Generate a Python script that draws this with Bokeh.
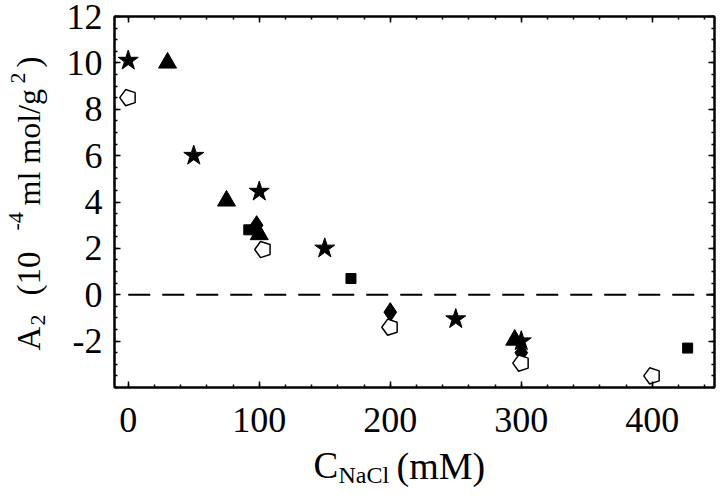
from bokeh.plotting import figure
from bokeh.models import (LinearAxis, Range1d, FixedTicker, Label,
                          CustomJSTickFormatter)
from bokeh.layouts import column, row
from bokeh.embed import file_html
from bokeh.resources import INLINE
import math

# ---- data (C_NaCl in mM, A2 in 1e-4 ml mol/g^2) ----
star_x = [0, 50, 100, 150, 250, 300]
star_y = [10.1, 6.0, 4.45, 2.0, -1.05, -2.0]

tri_x = [30, 75, 100, 295]
tri_y = [10.0, 4.05, 2.6, -1.95]

sq_x = [92, 170, 427]
sq_y = [2.8, 0.7, -2.3]

dia_x = [98, 200, 300]
dia_y = [3.0, -0.75, -2.5]

pent_x = [0, 103, 200, 300, 400]
pent_y = [8.5, 1.95, -1.4, -2.95, -3.5]

zero_x = [0, 460]
zero_y = [0, 0]

x_major = [0, 100, 200, 300, 400]
x_minor = [-20 + 20 * i for i in range(25)]
y_major = [-2, 0, 2, 4, 6, 8, 10, 12]
y_minor = [-4 + 0.5 * i for i in range(33)]
y_labels = {-2: "-2", 0: "0", 2: "2", 4: "4", 6: "6", 8: "8", 10: "10", 12: "12"}
x_labels = {0: "0", 100: "100", 200: "200", 300: "300", 400: "400"}

FONT = "Liberation Serif"
LW = 50          # width of the strip holding the y-axis title
TOP_H = 440      # height of the upper row
BOT_H = 56       # height of the strip holding the x-axis title
W = 720
FR_TOP, FR_BOT = 16, 387   # frame top / bottom (page px)

p = figure(width=W - LW, height=TOP_H, output_backend="svg", toolbar_location=None,
           x_range=Range1d(-10.5, 447.5), y_range=Range1d(-4, 12),
           min_border_left=114 - LW, min_border_right=6, min_border_top=FR_TOP,
           min_border_bottom=TOP_H - FR_BOT, x_axis_type=None, y_axis_type=None)
p.grid.visible = False
p.outline_line_color = "black"
p.outline_line_width = 2
p.background_fill_color = "white"
p.border_fill_color = "white"

xt = FixedTicker(ticks=x_major, minor_ticks=x_minor)
yt = FixedTicker(ticks=y_major, minor_ticks=y_minor)
blank = CustomJSTickFormatter(code="return ''")


def style(ax, labels=True):
    ax.axis_line_width = 2
    ax.major_tick_in = 6
    ax.major_tick_out = 0
    ax.minor_tick_in = 3
    ax.minor_tick_out = 0
    ax.major_tick_line_width = 1.5
    ax.minor_tick_line_width = 1.5
    if labels:
        ax.major_label_text_font = FONT
        ax.major_label_text_font_size = "36px"
        ax.major_label_text_color = "black"
    else:
        ax.formatter = blank
        ax.major_label_text_font_size = "1px"
        ax.major_label_standoff = 0


xb = LinearAxis(ticker=xt, major_label_overrides=x_labels)
style(xb)
xb.major_label_standoff = 20
p.add_layout(xb, "below")

xa = LinearAxis(ticker=xt)
style(xa, labels=False)
p.add_layout(xa, "above")

yl = LinearAxis(ticker=yt, major_label_overrides=y_labels)
style(yl)
yl.major_label_standoff = 12
p.add_layout(yl, "left")

yr = LinearAxis(ticker=yt)
style(yr, labels=False)
p.add_layout(yr, "right")

# zero line
p.line(zero_x, zero_y, line_color="black", line_width=1.8, line_dash="22 12")

# markers
p.scatter(star_x, star_y, marker="star", size=21, fill_color="black", line_color="black")
p.scatter(tri_x, tri_y, marker="triangle", size=18, fill_color="black", line_color="black")
p.scatter(sq_x, sq_y, marker="square", size=10, fill_color="black", line_color="black")
p.scatter(dia_x, dia_y, marker="diamond", size=19, fill_color="black", line_color="black")
p.ngon(pent_x, pent_y, radius=8.5, radius_units="screen", n=5, angle=math.pi / 2,
       fill_color="white", line_color="black", line_width=1.5)


def strip(w, h, top=0, bottom=0):
    f = figure(width=w, height=h, output_backend="svg", toolbar_location=None,
               x_range=Range1d(0, 1), y_range=Range1d(0, 1),
               min_border_left=0, min_border_right=0, min_border_top=top,
               min_border_bottom=bottom, x_axis_type=None, y_axis_type=None)
    f.grid.visible = False
    f.outline_line_color = None
    f.background_fill_color = "white"
    f.border_fill_color = "white"
    return f


ylab = strip(LW, TOP_H, FR_TOP, TOP_H - FR_BOT)
xlab = strip(W, BOT_H)


def lab(f, text, x, y, size, angle=0.0):
    # x, y: pixels from the strip frame's left / bottom edge
    f.add_layout(Label(x=x, y=y, x_units="screen", y_units="screen", text=text,
                       text_font=FONT, text_font_size=size, angle=angle,
                       text_align="left", text_baseline="alphabetic",
                       text_color="black"))


# x-axis title: C_NaCl (mM)
lab(xlab, "C", 313, 31, "37px")
lab(xlab, "NaCl", 338, 22, "24px")
lab(xlab, "(mM)", 396, 31, "38px")

# y-axis title: A_2 (10^-4 ml mol/g^2)   (y measured up from frame bottom)
R = math.pi / 2
lab(ylab, "A", 28, FR_BOT - 350, "33px", R)
lab(ylab, "2", 37, FR_BOT - 325, "22px", R)
lab(ylab, "(10", 28, FR_BOT - 295, "33px", R)
lab(ylab, "-4", 15, FR_BOT - 230, "22px", R)
lab(ylab, "ml mol/g", 28, FR_BOT - 205, "32px", R)
lab(ylab, "2", 17, FR_BOT - 83, "22px", R)
lab(ylab, ")", 28, FR_BOT - 67, "33px", R)

layout = column(row(ylab, p, spacing=0), xlab, spacing=0)

open("out.html", "w").write(file_html(layout, INLINE))
